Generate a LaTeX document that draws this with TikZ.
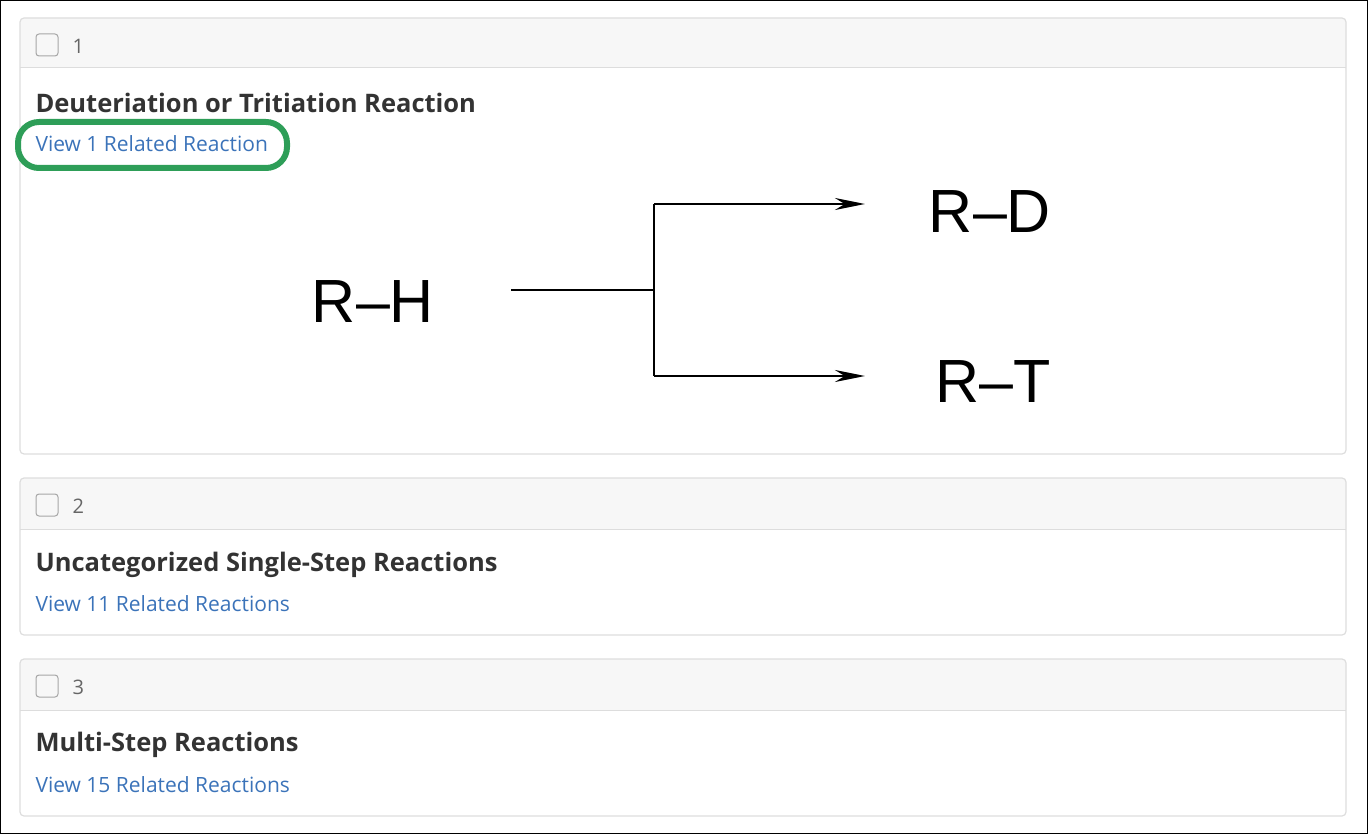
\documentclass[tikz,border=0pt]{standalone}
\usepackage{fontspec}
\setmainfont{Open Sans}
\newfontfamily\chemfont{Liberation Sans}
\usetikzlibrary{arrows.meta}
\definecolor{cardline}{HTML}{DDDDDD}
\definecolor{headbg}{HTML}{F7F7F7}
\definecolor{linkblue}{HTML}{3B73B9}
\definecolor{titlegray}{HTML}{333333}
\definecolor{markgreen}{HTML}{2E9E58}
\tikzset{
  card/.style={draw=cardline,line width=1.2pt,rounded corners=4pt},
  checkbox/.style={draw=black!35,line width=1pt,rounded corners=3pt},
  num/.style={anchor=west,text=black!60,font=\fontsize{20}{24}\selectfont},
  title/.style={anchor=west,text=titlegray,font=\fontsize{25.5}{30}\selectfont\bfseries},
  link/.style={anchor=west,text=linkblue,font=\fontsize{21}{25}\selectfont},
  chem/.style={font=\chemfont\fontsize{61}{66}\selectfont},
  rxn/.style={line width=2.8pt},
}
\begin{document}
\begin{tikzpicture}[x=1pt,y=-1pt]
\useasboundingbox (0,0) rectangle (1368,834);
\draw[line width=1pt] (0.5,0.5) rectangle (1367.5,833.5);
% cards: top, header bottom, bottom
\foreach \t/\h/\b/\n in {18/68/454/1,478/529/635/2,659/710/816/3} {
  \fill[headbg,rounded corners=4pt] (20,\t) rectangle (1346,\h+4);
  \fill[white] (20.6,\h) rectangle (1345.4,\h+5);
  \draw[cardline,line width=1pt] (20,\h) -- (1346,\h);
  \draw[card] (20,\t) rectangle (1346,\b);
  \draw[checkbox] (36,\t+16) rectangle (58,\t+38);
  \node[num] (n\n) at (69,\t+28) {\n};
}
\node[title] (t1) at (32,103) {Deuteriation or Tritiation Reaction};
\node[link] (l1) at (32,144) {View 1 Related Reaction};
\node[title] (t2) at (32,565) {Uncategorized Single-Step Reactions};
\node[link] (l2) at (32,604) {View 11 Related Reactions};
\node[title] (t3) at (32,745) {Multi-Step Reactions};
\node[link] (l3) at (32,785) {View 15 Related Reactions};
\draw[markgreen,line width=6pt,rounded corners=21pt] (18,122) rectangle (287,168);
% reaction scheme
\node[chem] (rh) at (373,302) {R–H};
\node[chem] (rd) at (990,212) {R–D};
\node[chem] (rt) at (993,382) {R–T};
\coordinate (fork) at (654,290);
\coordinate (up) at (654,204);
\coordinate (dn) at (654,376);
\draw[rxn] (511,290) -- (fork);
\draw[rxn] (up) -- (dn);
\draw[rxn,-{Stealth[length=30pt,width=12pt]}] (up) -- (865,204);
\draw[rxn,-{Stealth[length=30pt,width=12pt]}] (dn) -- (865,376);
\end{tikzpicture}
\end{document}
